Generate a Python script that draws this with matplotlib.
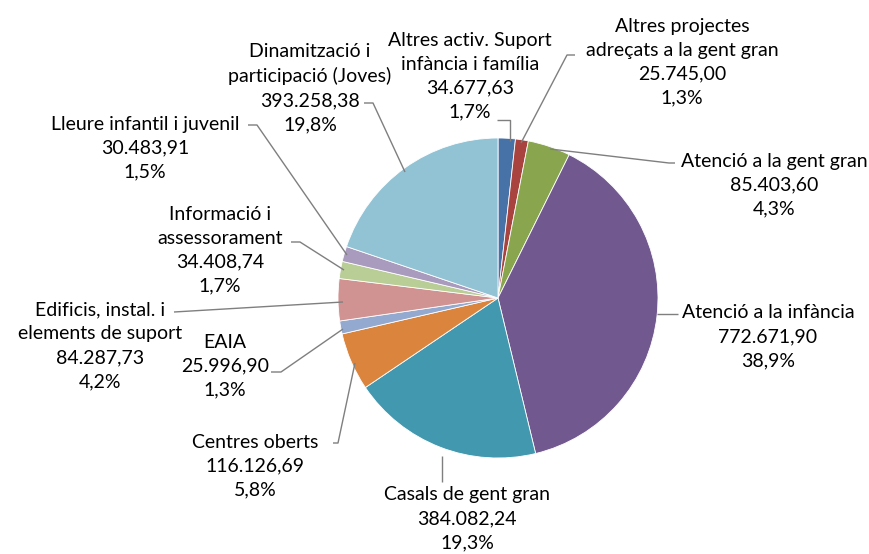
import matplotlib.pyplot as plt

W, H = 870, 554

categories = [
    "Altres activ. Suport\ninfància i família",
    "Altres projectes\nadreçats a la gent gran",
    "Atenció a la gent gran",
    "Atenció a la infància",
    "Casals de gent gran",
    "Centres oberts",
    "EAIA",
    "Edificis, instal. i\nelements de suport",
    "Informació i\nassessorament",
    "Lleure infantil i juvenil",
    "Dinamització i\nparticipació (Joves)",
]
amounts = [34677.63, 25745.00, 85403.60, 772671.90, 384082.24, 116126.69,
           25996.90, 84287.73, 34408.74, 30483.91, 393258.38]
colors = ["#4672A8", "#A9433F", "#89A54E", "#71588F", "#4198AF", "#DB843D",
          "#93A9CF", "#D19392", "#B9CD96", "#A99BBD", "#92C3D4"]

# label block centres (image px) and leader polylines (image px)
label_xy = [(470, 76), (682, 62), (774, 185), (768, 337), (467, 519),
            (255, 466), (225, 366), (100, 346), (220, 250), (145, 148),
            (310, 88)]
leaders = [
    [(497, 120), (510, 120), (510, 141)],
    [(575, 55), (567, 55), (521, 143)],
    [(675, 163), (669, 163), (550, 149)],
    [(678, 314), (657, 314)],
    [(442, 482), (442, 456)],
    [(333, 443), (338, 443), (355, 363)],
    [(271, 372), (281, 372), (343, 329)],
    [(174, 312), (343, 302)],
    [(291, 242), (300, 242), (344, 270)],
    [(248, 125), (257, 125), (347, 255)],
    [(364, 103), (373, 103), (405, 172)],
]


def fmt_ca(v):
    s = f"{v:,.2f}"
    return s.replace(",", "X").replace(".", ",").replace("X", ".")


def Y(y):
    return H - y


plt.rcParams["font.family"] = ["Lato", "DejaVu Sans"]
fig = plt.figure(figsize=(W / 100, H / 100), dpi=100)
ax = fig.add_axes([0, 0, 1, 1])

ax.pie(amounts, colors=colors, startangle=90, counterclock=False,
       center=(498, Y(298)), radius=160, frame=True,
       wedgeprops=dict(edgecolor="white", linewidth=0.6))
ax.set_xlim(0, W)
ax.set_ylim(0, H)
ax.set_aspect("equal")
ax.axis("off")

total = sum(amounts)
for cat, v, (lx, ly), pts in zip(categories, amounts, label_xy, leaders):
    pct = f"{100 * v / total:.1f}".replace(".", ",") + "%"
    ax.text(lx, Y(ly), f"{cat}\n{fmt_ca(v)}\n{pct}", ha="center", va="center",
            fontsize=14, linespacing=1.5, color="black")
    ax.plot([p[0] for p in pts], [Y(p[1]) for p in pts], color="#7f7f7f",
            lw=1.0, solid_capstyle="butt")

fig.savefig("out.png", dpi=100)
